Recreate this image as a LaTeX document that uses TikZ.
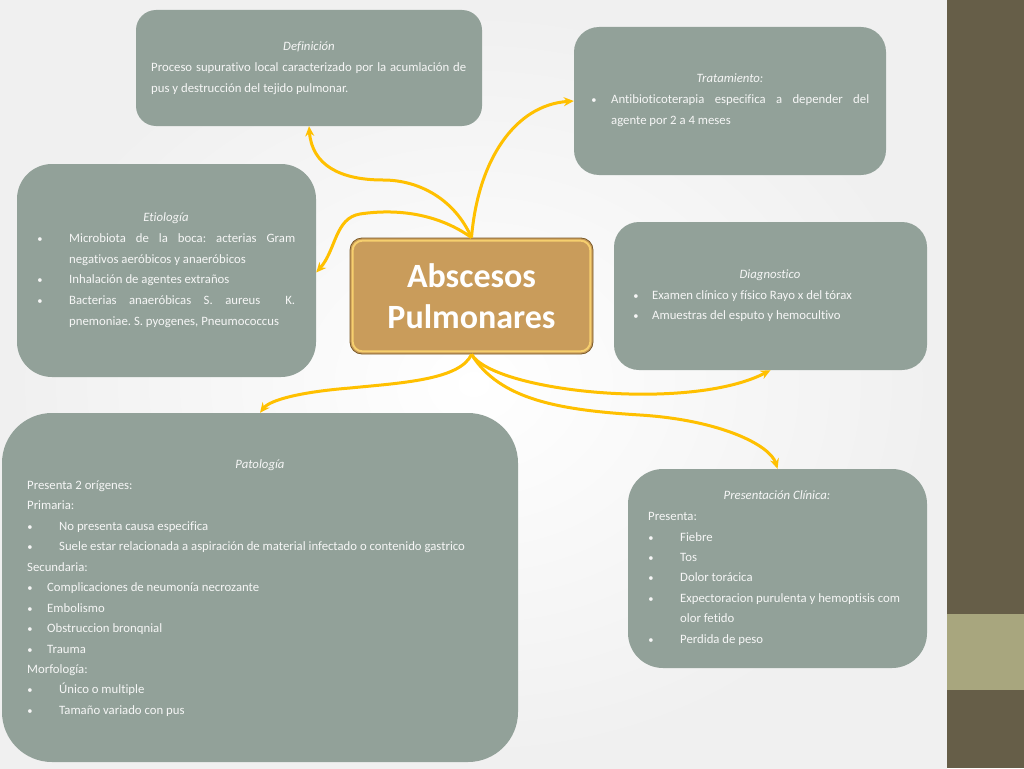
\documentclass[tikz,border=0pt]{standalone}
\usepackage{fontspec}
\setmainfont{Carlito}[Ligatures=NoCommon]
\usetikzlibrary{arrows.meta}
\definecolor{boxgray}{HTML}{92A199}
\definecolor{arrowgold}{HTML}{FFC000}
\definecolor{tanbox}{HTML}{C99C5B}
\definecolor{tanedge}{HTML}{7A5A28}
\definecolor{tanrim}{HTML}{F6CF6E}
\definecolor{olive}{HTML}{665E48}
\definecolor{lightolive}{HTML}{A8A67E}
\definecolor{txtcol}{HTML}{F6F6F6}
\begin{document}
\frenchspacing
\begin{tikzpicture}[x=1pt,y=-1pt,
  graybox/.style={fill=boxgray, draw=none, rounded corners=#1, inner sep=0pt},
  bodytxt/.style={anchor=mid west, inner sep=0pt, yshift=-2pt, text=txtcol, font=\fontsize{12.75}{15}\selectfont},
  titletxt/.style={anchor=mid, inner sep=0pt, yshift=-2pt, text=txtcol, font=\fontsize{12.75}{15}\selectfont\itshape},
  bul/.style={anchor=mid, inner sep=0pt, yshift=-2pt, text=txtcol, font=\fontsize{10.5}{12}\selectfont},
  conn/.style={draw=arrowgold, line width=3pt, -{Stealth[length=10pt,width=9pt]}},
  centerbox/.style={fill=tanbox, draw=tanedge, line width=0.8pt, rounded corners=12pt,
     minimum width=243pt, minimum height=116pt, inner sep=0pt, text=white,
     font=\fontsize{34}{41}\selectfont\bfseries, align=center}]
\useasboundingbox (0,0) rectangle (1024,768);
\shade[inner color=white, outer color=black!6] (0,0) rectangle (947,768);
\fill[olive] (947,0) rectangle (1024,768);
\fill[lightolive] (947,614) rectangle (1024,690);

% boxes
\node[graybox=20pt, minimum width=346pt, minimum height=116pt] (def) at (309,68) {};
\node[graybox=25pt, minimum width=312pt, minimum height=148pt] (trat) at (730,101) {};
\node[graybox=35pt, minimum width=299pt, minimum height=213pt] (eti) at (166.5,270.5) {};
\node[graybox=25pt, minimum width=313pt, minimum height=148pt] (diag) at (770.5,296) {};
\node[graybox=50pt, minimum width=516pt, minimum height=349pt] (pat) at (260,587.5) {};
\node[graybox=35pt, minimum width=299pt, minimum height=199pt] (pres) at (777.5,568.5) {};
\node[centerbox] (c) at (471.5,296) {Abscesos\\Pulmonares};
\draw[tanrim, line width=2pt, rounded corners=10pt] ([shift={(3,3)}]c.north west) rectangle ([shift={(-3,-3)}]c.south east);

% Definicion
\node[titletxt] (defT) at (309,46) {Definición};
\node[bodytxt] (def1) at (151,67) {\makebox[315pt][s]{Proceso supurativo local caracterizado por la acumlación de}};
\node[bodytxt] (def2) at (151,88) {pus y destrucción del tejido pulmonar.};

% Tratamiento
\node[titletxt] (tratT) at (730,78) {Tratamiento:};
\node[bul] (tratB) at (594,99) {\textbullet};
\node[bodytxt] (trat1) at (611,99) {\makebox[258pt][s]{Antibioticoterapia especifica a depender del}};
\node[bodytxt] (trat2) at (611,120) {agente por 2 a 4 meses};

% Etiologia
\node[titletxt] (etiT) at (166,217) {Etiología};
\node[bul] (etiB1) at (40,238) {\textbullet};
\node[bodytxt] (eti1) at (69,238) {\makebox[226pt][s]{Microbiota de la boca: acterias Gram}};
\node[bodytxt] (eti2) at (69,259) {negativos aeróbicos y anaeróbicos};
\node[bul] (etiB2) at (40,279) {\textbullet};
\node[bodytxt] (eti3) at (69,279) {Inhalación de agentes extraños};
\node[bul] (etiB3) at (40,300) {\textbullet};
\node[bodytxt] (eti4) at (69,300) {\makebox[226pt][s]{Bacterias anaeróbicas S. aureus \ K.}};
\node[bodytxt] (eti5) at (69,321) {pnemoniae. S. pyogenes, Pneumococcus};

% Diagnostico
\node[titletxt] (diagT) at (770,274) {Diagnostico};
\node[bul] (diagB1) at (636,295) {\textbullet};
\node[bodytxt] (diag1) at (652,295) {Examen clínico y físico Rayo x del tórax};
\node[bul] (diagB2) at (636,315) {\textbullet};
\node[bodytxt] (diag2) at (652,315) {Amuestras del esputo y hemocultivo};

% Patologia
\node[titletxt] (patT) at (260,464) {Patología};
\node[bodytxt] (pat1) at (27,485) {Presenta 2 orígenes:};
\node[bodytxt] (pat2) at (27,505) {Primaria:};
\node[bul] (patB1) at (30,526) {\textbullet};
\node[bodytxt] (pat3) at (59,526) {No presenta causa especifica};
\node[bul] (patB2) at (30,546) {\textbullet};
\node[bodytxt] (pat4) at (59,546) {Suele estar relacionada a aspiración de material infectado o contenido gastrico};
\node[bodytxt] (pat5) at (27,567) {Secundaria:};
\node[bul] (patB3) at (30,587) {\textbullet};
\node[bodytxt] (pat6) at (47,587) {Complicaciones de neumonía necrozante};
\node[bul] (patB4) at (30,608) {\textbullet};
\node[bodytxt] (pat7) at (47,608) {Embolismo};
\node[bul] (patB5) at (30,628) {\textbullet};
\node[bodytxt] (pat8) at (47,628) {Obstruccion bronqnial};
\node[bul] (patB6) at (30,649) {\textbullet};
\node[bodytxt] (pat9) at (47,649) {Trauma};
\node[bodytxt] (pat10) at (27,669) {Morfología:};
\node[bul] (patB7) at (30,689) {\textbullet};
\node[bodytxt] (pat11) at (59,689) {Único o multiple};
\node[bul] (patB8) at (30,710) {\textbullet};
\node[bodytxt] (pat12) at (59,710) {Tamaño variado con pus};

% Presentacion clinica
\node[titletxt] (presT) at (777,495) {Presentación Clínica:};
\node[bodytxt] (pres0) at (648,516) {Presenta:};
\node[bul] (presB1) at (651,537) {\textbullet};
\node[bodytxt] (pres1) at (680,537) {Fiebre};
\node[bul] (presB2) at (651,557) {\textbullet};
\node[bodytxt] (pres2) at (680,557) {Tos};
\node[bul] (presB3) at (651,577) {\textbullet};
\node[bodytxt] (pres3) at (680,577) {Dolor torácica};
\node[bul] (presB4) at (651,598) {\textbullet};
\node[bodytxt] (pres4) at (680,598) {Expectoracion purulenta y hemoptisis com};
\node[bodytxt] (pres5) at (680,618) {olor fetido};
\node[bul] (presB5) at (651,639) {\textbullet};
\node[bodytxt] (pres6) at (680,639) {Perdida de peso};

% connectors
\draw[conn] (c.north) .. controls (455,200) and (420,180) .. (383,180)
  .. controls (340,180) and (312,165) .. (def.south);
\draw[conn] (c.north) .. controls (440,215) and (400,208) .. (360,214)
  .. controls (335,218) and (336,250) .. ([yshift=-2pt]eti.east);
\draw[conn] (c.north) .. controls (478,160) and (515,105) .. (trat.west);
\draw[conn] (c.south) .. controls (460,380) and (400,383) .. (350,388)
  .. controls (300,392) and (270,400) .. (pat.north);
\draw[conn] (c.south) .. controls (495,392) and (690,412) .. (diag.south);
\draw[conn] (c.south) .. controls (500,400) and (560,410) .. (640,415)
  .. controls (720,420) and (770,445) .. (pres.north);
\end{tikzpicture}
\end{document}
